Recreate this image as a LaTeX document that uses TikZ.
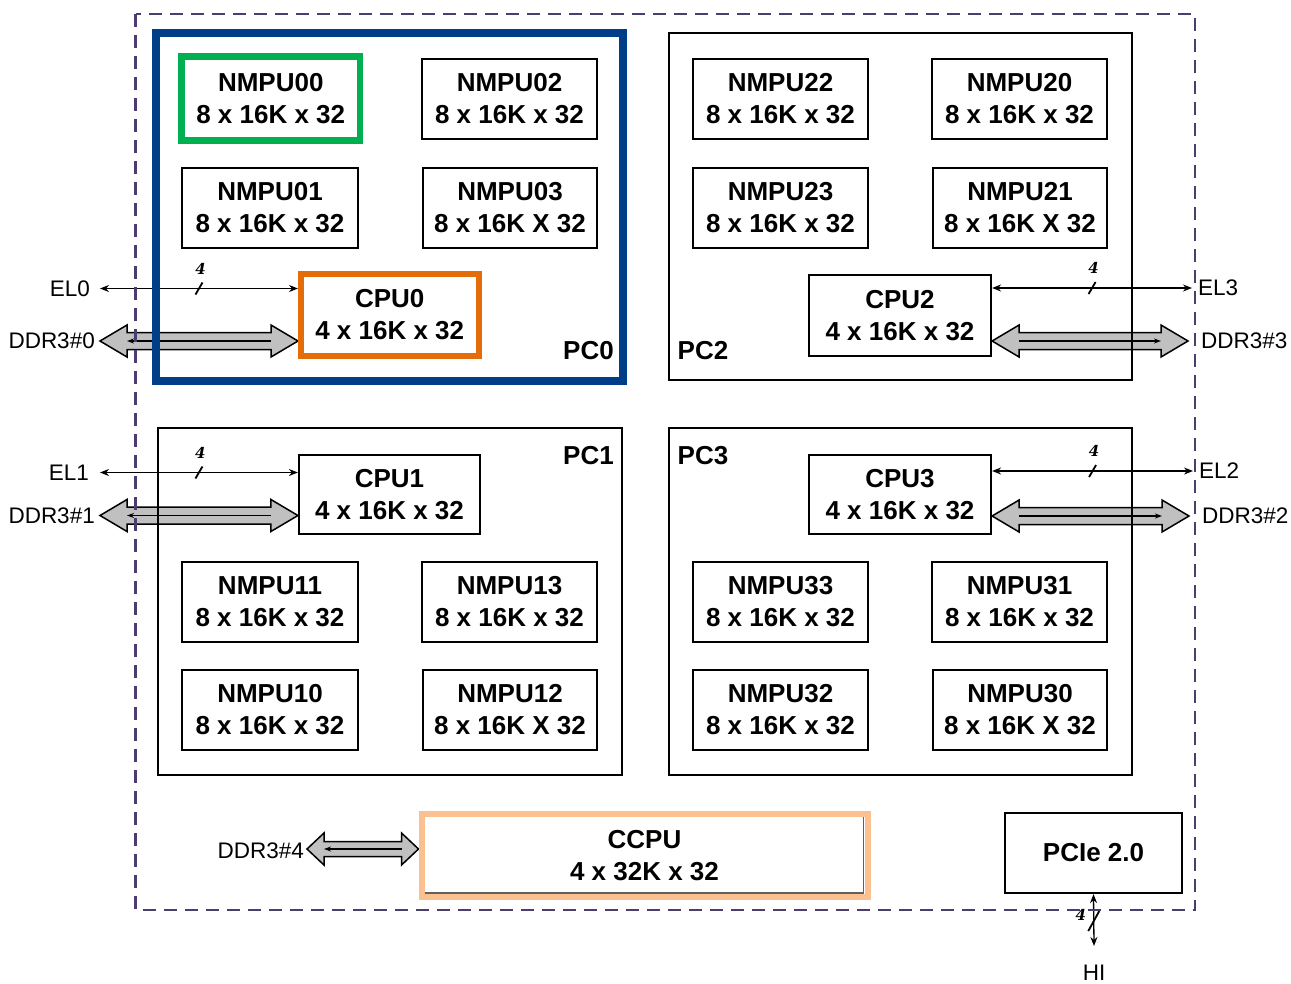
\documentclass[tikz,border=0pt]{standalone}
\usepackage{fontspec}
\setmainfont{Liberation Sans}
\newfontfamily\fourfont{DejaVu Serif}
\usetikzlibrary{arrows.meta,calc,backgrounds}
\definecolor{pcblue}{HTML}{003F87}
\definecolor{nmgreen}{HTML}{00B050}
\definecolor{cpuorange}{HTML}{E46C0A}
\definecolor{ccpeach}{HTML}{FAC090}
\definecolor{dashpurple}{HTML}{4B3D6E}
\definecolor{arrgray}{HTML}{C0C0C0}
\definecolor{shadowgray}{HTML}{606060}
\newcommand\blk[7][]{\node[blk,#1,minimum width=#5pt-#3pt,minimum height=#6pt-#4pt] (#2) at ({(#3+#5)/2},{(#4+#6)/2}) {#7};}
% #1 left point, #2 right point, #3 head length, #4 head half width, #5 shaft half width, #6 inner arrow
\newcommand\bigarr[6]{%
  \path[bigarrow] let \p1=(#1), \p2=(#2) in
    (\x1,\y1) -- (\x1+#3,\y1+#4) -- (\x1+#3,\y1+#5) -- (\x2-#3,\y1+#5) -- (\x2-#3,\y1+#4)
    -- (\x2,\y1) -- (\x2-#3,\y1-#4) -- (\x2-#3,\y1-#5) -- (\x1+#3,\y1-#5) -- (\x1+#3,\y1-#4) -- cycle;
  \path[inarrow,#6] let \p1=(#1), \p2=(#2) in (\x1+#3,\y1) -- (\x2-#3,\y1);
}
\begin{document}
\begin{tikzpicture}[x=1pt,y=-1pt,
  blk/.style={draw=black,line width=2.2pt,fill=white,align=center,inner sep=2pt,
    font=\fontsize{26}{32}\selectfont\bfseries},
  pcbox/.style={fill=none,inner sep=0pt},
  greenbox/.style={draw=nmgreen,line width=6.5pt},
  orangebox/.style={draw=cpuorange,line width=6pt},
  peachbox/.style={draw=ccpeach,line width=6pt},
  bluebox/.style={draw=pcblue,line width=7.5pt},
  pclab/.style={font=\fontsize{26}{32}\selectfont\bfseries,inner sep=0pt},
  lab/.style={font=\fontsize{22.5}{27}\selectfont,inner sep=0pt},
  four/.style={font=\fourfont\fontsize{15}{15}\selectfont\bfseries\itshape,inner sep=0pt},
  elarrow/.style={line width=1.3pt,{Stealth[length=9pt,width=7pt]}-{Stealth[length=9pt,width=7pt]}},
  slashline/.style={line width=1.8pt},
  bigarrow/.style={draw=black,fill=arrgray,line width=1.5pt,line join=miter},
  inarrow/.style={draw=black,line width=1.3pt,>={Stealth[length=7pt,width=5pt]}},
  outerbox/.style={draw=dashpurple,line width=2.5pt,dash pattern=on 13pt off 8pt},
]
\useasboundingbox (0,0) rectangle (1291,983);

% PC containers
\blk[pcbox,bluebox]{pc0}{156}{33}{623}{381}{}
\blk[pcbox]{pc2}{669}{33}{1132}{380}{}
\blk[pcbox]{pc1}{158}{428}{622}{775}{}
\blk[pcbox]{pc3}{669}{428}{1132}{775}{}

% PC0
\blk[greenbox]{nmpu00}{181.5}{56.5}{360}{140.5}{NMPU00\\8 x 16K x 32}
\blk{nmpu02}{422}{59}{597}{139}{NMPU02\\8 x 16K x 32}
\blk{nmpu01}{182}{168}{358}{248}{NMPU01\\8 x 16K x 32}
\blk{nmpu03}{423}{168}{597}{248}{NMPU03\\8 x 16K X 32}
\blk[orangebox]{cpu0}{301}{274}{478.5}{355.5}{CPU0\\4 x 16K x 32}
\node[pclab] (pc0lab) at (588.5,350.5) {PC0};

% PC2
\blk{nmpu22}{693}{59}{868}{139}{NMPU22\\8 x 16K x 32}
\blk{nmpu20}{932}{59}{1107}{139}{NMPU20\\8 x 16K x 32}
\blk{nmpu23}{693}{168}{868}{248}{NMPU23\\8 x 16K x 32}
\blk{nmpu21}{933}{168}{1107}{248}{NMPU21\\8 x 16K X 32}
\blk{cpu2}{809}{275}{991}{356}{CPU2\\4 x 16K x 32}
\node[pclab] (pc2lab) at (703,350.5) {PC2};

% PC1
\blk{cpu1}{299}{455}{480}{534}{CPU1\\4 x 16K x 32}
\blk{nmpu11}{182}{562}{358}{642}{NMPU11\\8 x 16K x 32}
\blk{nmpu13}{422}{562}{597}{642}{NMPU13\\8 x 16K x 32}
\blk{nmpu10}{182}{670}{358}{750}{NMPU10\\8 x 16K x 32}
\blk{nmpu12}{423}{670}{597}{750}{NMPU12\\8 x 16K X 32}
\node[pclab] (pc1lab) at (588.5,455.5) {PC1};

% PC3
\blk{cpu3}{809}{455}{991}{534}{CPU3\\4 x 16K x 32}
\blk{nmpu33}{693}{562}{868}{642}{NMPU33\\8 x 16K x 32}
\blk{nmpu31}{932}{562}{1107}{642}{NMPU31\\8 x 16K x 32}
\blk{nmpu32}{693}{670}{868}{750}{NMPU32\\8 x 16K x 32}
\blk{nmpu30}{933}{670}{1107}{750}{NMPU30\\8 x 16K X 32}
\node[pclab] (pc3lab) at (703,455.5) {PC3};

% CCPU and PCIe
\blk[peachbox]{ccpu}{421.5}{813.5}{867.5}{897}{CCPU\\4 x 32K x 32}
\draw[shadowgray,line width=1.3pt] ($(ccpu.south west)+(6,-7)$) -- ($(ccpu.south east)+(-7,-7)$) -- ($(ccpu.north east)+(-7,6)$);
\blk{pcie}{1005}{813}{1182}{893}{PCIe 2.0}

% outer dashed chip boundary
\draw[outerbox] (135.5,14) rectangle (1195,910);

% external labels
\node[lab,anchor=east] (el0) at (90,288.5) {EL0};
\node[lab,anchor=east] (ddr0) at (95,341) {DDR3\#0};
\node[lab,anchor=east] (el1) at (89,472.5) {EL1};
\node[lab,anchor=east] (ddr1) at (95,515.5) {DDR3\#1};
\node[lab,anchor=west] (el3) at (1198,288) {EL3};
\node[lab,anchor=west] (ddr3) at (1201,341) {DDR3\#3};
\node[lab,anchor=west] (el2) at (1199,471) {EL2};
\node[lab,anchor=west] (ddr2) at (1202,516) {DDR3\#2};
\node[lab,anchor=east] (ddr4) at (304,851) {DDR3\#4};
\node[lab] (hi) at (1094,973) {HI};

% free ends of connectors
\coordinate (e0) at (100,288.5);
\coordinate (d0) at (100,341);
\coordinate (e1) at (100,472.5);
\coordinate (d1) at (100,515.5);
\coordinate (e3) at (1192,288);
\coordinate (d3) at (1188,341);
\coordinate (e2) at (1193,471);
\coordinate (d2) at (1189,516);
\coordinate (d4) at (307,849);
\coordinate (hiend) at (1094,946);

\begin{pgfonlayer}{background}
  \draw[elarrow] (e0) -- coordinate[midway] (m0) (e0 -| cpu0.west);
  \draw[elarrow] (e1) -- coordinate[midway] (m1) (e1 -| cpu1.west);
  \draw[elarrow] (e3 -| cpu2.east) -- coordinate[midway] (m3) (e3);
  \draw[elarrow] (e2 -| cpu3.east) -- coordinate[midway] (m2) (e2);
  \draw[elarrow] (pcie.south) -- coordinate[midway] (mh) (hiend);
  \bigarr{d0}{d0 -| cpu0.west}{27pt}{16pt}{8.5pt}{<-}
  \bigarr{d1}{d1 -| cpu1.west}{27pt}{16pt}{8.5pt}{<-}
  \bigarr{d3 -| cpu2.east}{d3}{27pt}{16pt}{8.5pt}{->}
  \bigarr{d2 -| cpu3.east}{d2}{27pt}{16pt}{8.5pt}{->}
  \bigarr{d4}{d4 -| ccpu.west}{17pt}{16pt}{7.5pt}{<-}
\end{pgfonlayer}

% bus-width marks
\foreach \m in {m0,m1,m3,m2}{
  \draw[slashline] ($(\m)+(-3.5,6)$) -- ($(\m)+(3.5,-6)$);
  \node[four] at ($(\m)+(1.5,-20)$) {4};
}
\draw[slashline] ($(mh)+(-5.5,11)$) -- ($(mh)+(5.5,-9)$);
\node[four] (hifour) at ($(mh)+(-13,-5)$) {4};
\end{tikzpicture}
\end{document}
